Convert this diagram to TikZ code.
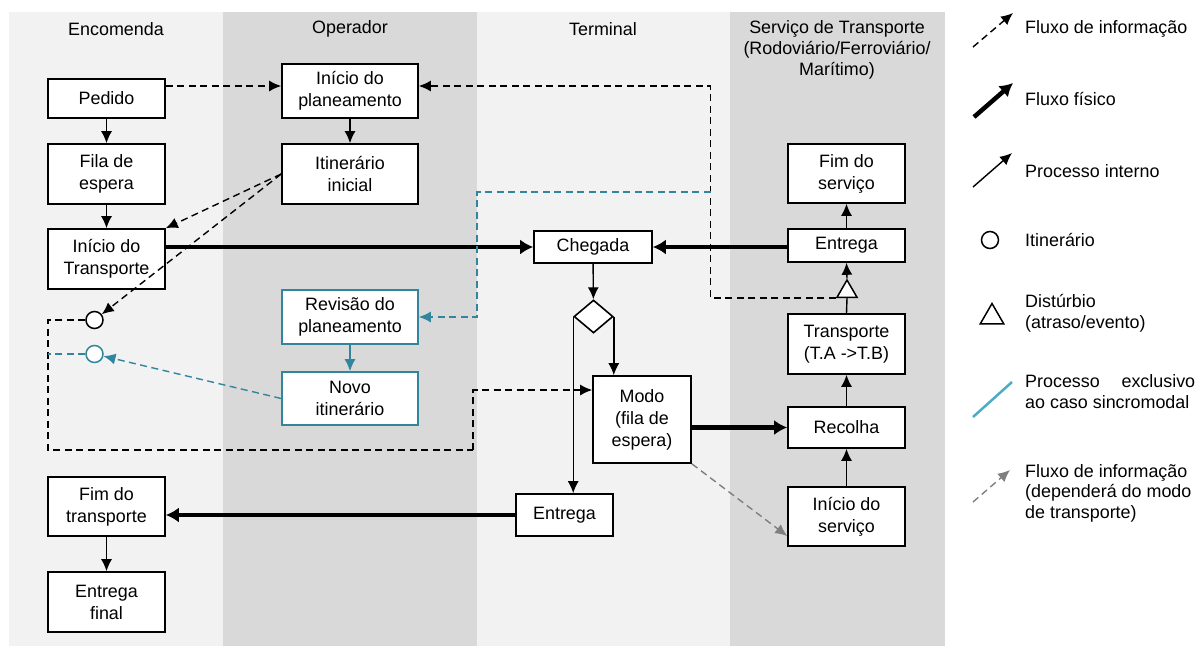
\documentclass[tikz,border=0pt]{standalone}
\usepackage{fontspec}
\setmainfont{Liberation Sans}
\usetikzlibrary{arrows.meta,shapes.geometric,positioning}

\definecolor{lanelight}{HTML}{F2F2F2}
\definecolor{lanedark}{HTML}{D9D9D9}
\definecolor{sinteal}{HTML}{31859C}
\definecolor{sinlight}{HTML}{4BACC6}
\definecolor{infogray}{HTML}{7F7F7F}

\tikzset{
  proc/.style={draw,line width=1.6pt,fill=white,minimum width=117pt,align=center,inner sep=2pt},
  procsin/.style={proc,draw=sinteal},
  info/.style={->,line width=1.4pt,dash pattern=on 7pt off 4.5pt},
  fisico/.style={-{Latex[length=13pt,width=15pt]},line width=4.5pt},
  interno/.style={->,line width=1.4pt},
  itin/.style={circle,draw,line width=1.5pt,fill=white,minimum size=17pt,inner sep=0pt},
  legtext/.style={anchor=west,inner sep=0pt,align=left},
}

\begin{document}
\begin{tikzpicture}[x=1pt,y=-1pt,>={Latex[length=12pt,width=11pt]},font=\fontsize{17.9}{22}\selectfont]

\useasboundingbox (0,0) rectangle (1197,646);
\fill[lanelight] (9,12) rectangle (223,646);
\fill[lanedark] (223,12) rectangle (477,646);
\fill[lanelight] (477,12) rectangle (730,646);
\fill[lanedark] (730,12) rectangle (945,646);

\node (hEnc)  at (116,29) {Encomenda};
\node (hOper) at (350,29) {Operador};
\node (hTerm) at (603,29) {Terminal};
\node[align=center,font=\fontsize{17.9}{21}\selectfont] (hServ) at (837,50) {Serviço de Transporte\\(Rodoviário/Ferroviário/\\Marítimo)};

% Encomenda
\node[proc,minimum height=39pt] (pedido)    at (106.5,98.5) {Pedido};
\node[proc,minimum height=60pt] (fila)      at (106.5,174)  {Fila de\\espera};
\node[proc,minimum height=60pt] (iniTransp) at (106.5,259)  {Início do\\Transporte};
\node[proc,minimum height=59pt] (fimTransp) at (106.5,506.5) {Fim do\\transporte};
\node[proc,minimum height=60pt] (entFinal)  at (106.5,602)  {Entrega\\final};
\node[itin] (itinA) at (94.5,320) {};
\node[itin,draw=sinteal] (itinB) at (94.5,354) {};

% Operador
\node[proc,minimum width=136pt,minimum height=54pt] (iniPlan) at (350,91) {Início do\\planeamento};
\node[proc,minimum width=136pt,minimum height=60pt] (itinIni) at (350,174) {Itinerário\\inicial};
\node[procsin,minimum width=136pt,minimum height=54pt] (revPlan) at (350,317) {Revisão do\\planeamento};
\node[procsin,minimum width=136pt,minimum height=53pt] (novoItin) at (350,398.5) {Novo\\itinerário};

% Terminal
\node[proc,minimum width=118pt,minimum height=32pt] (chegada) at (593,247) {Chegada};
\node[diamond,draw,line width=1.6pt,fill=white,minimum width=39pt,minimum height=33pt,inner sep=0pt] (decisao) at (593.5,316.5) {};
\node[proc,minimum width=98pt,minimum height=87pt] (modo) at (642,419.5) {Modo\\(fila de\\espera)};
\node[proc,minimum width=97pt,minimum height=42pt] (entTerm) at (564.5,515) {Entrega};

% Servico de transporte
\node[proc,minimum height=59pt] (fimServ) at (846.5,173.5) {Fim do\\serviço};
\node[proc,minimum height=33pt] (entServ) at (846.5,245.5) {Entrega};
\node[regular polygon,regular polygon sides=3,draw,line width=1.5pt,fill=white,minimum size=23pt,inner sep=0pt] (dist) at (847,291.5) {};
\node[proc,minimum height=60pt] (transp)  at (846.5,344) {Transporte\\(T.A ->T.B)};
\node[proc,minimum height=41pt] (recolha) at (846.5,427.5) {Recolha};
\node[proc,minimum height=59pt] (iniServ) at (846.5,516.5) {Início do\\serviço};

\coordinate (retorno) at (710.5,86);
\coordinate (desvio)  at (710.5,192);
\coordinate (desvioB) at (477,192);
\coordinate (lacoA)   at (48,450);
\coordinate (lacoB)   at (473,450);

% processos internos
\path[interno] (pedido)  edge (fila)
               (fila)    edge (iniTransp)
               (iniPlan) edge (itinIni)
               (fimTransp) edge (entFinal)
               (chegada) edge (decisao)
               (iniServ) edge (recolha)
               (recolha) edge (transp)
               (entServ) edge (fimServ)
               (dist.north) edge (entServ.south);
\draw[line width=1.4pt] (transp.north) -- (dist.south);
\draw[interno] (decisao.east) -- (decisao.east |- modo.north);
\draw[interno] (decisao.west) -- (decisao.west |- entTerm.north);
\draw[interno,color=sinteal] (revPlan) -- (novoItin);

% fluxo fisico
\draw[fisico] (iniTransp.east |- chegada.west) -- (chegada.west);
\draw[fisico] (entServ.west |- chegada.east) -- (chegada.east);
\draw[fisico] (modo.east |- recolha.west) -- (recolha.west);
\draw[fisico] (entTerm.west) -- (entTerm.west -| fimTransp.east);

% fluxo de informacao
\draw[info] ([yshift=12.5pt]pedido.east) -- ([yshift=12.5pt]pedido.east -| iniPlan.west);
\draw[info] (dist.corner 2) -| (retorno) -- (retorno -| iniPlan.east);
\draw[info,color=sinteal] (desvio) -- (desvioB) |- (revPlan.east);
\draw[info] (itinIni.west) -- (iniTransp.north east);
\draw[info] (itinIni.west) -- (itinA);
\draw[info,-] (itinA.west) -| (lacoA) -- (lacoB);
\draw[info] (lacoB) |- ([yshift=29.5pt]modo.west);
\draw[info,-,color=sinteal] (itinB.west) -- (itinB.west -| lacoA);
\draw[info,color=sinteal] (novoItin.west) -- (itinB);
\draw[info,color=infogray] (modo.south east) -- ([yshift=-19.5pt]iniServ.west);

% legenda
\coordinate (lg1a) at (973,47);  \coordinate (lg1b) at (1013,13);
\coordinate (lg2a) at (974,117); \coordinate (lg2b) at (1013,83);
\coordinate (lg3a) at (973,187); \coordinate (lg3b) at (1012,153);
\coordinate (lg6a) at (973,417); \coordinate (lg6b) at (1012,382);
\coordinate (lg7a) at (973,502); \coordinate (lg7b) at (1010,470);
\draw[info] (lg1a) -- (lg1b);
\draw[fisico] (lg2a) -- (lg2b);
\draw[interno] (lg3a) -- (lg3b);
\node[itin] (lgItin) at (990,240) {};
\node[regular polygon,regular polygon sides=3,draw,line width=1.5pt,minimum size=27pt,inner sep=0pt] (lgDist) at (992,317) {};
\draw[line width=2.5pt,sinlight] (lg6a) -- (lg6b);
\draw[info,color=infogray] (lg7a) -- (lg7b);

\node[legtext] (lgT1) at (1025,29)  {Fluxo de informação};
\node[legtext] (lgT2) at (1025,99)  {Fluxo físico};
\node[legtext] (lgT3) at (1025,171) {Processo interno};
\node[legtext] (lgT4) at (1025,240) {Itinerário};
\node[legtext,font=\fontsize{17.9}{21}\selectfont] (lgT5) at (1025,313.5) {Distúrbio\\(atraso/evento)};
\node[legtext,font=\fontsize{17.9}{21}\selectfont] (lgT6) at (1025,392) {\makebox[170pt][s]{Processo exclusivo}\\ao caso sincromodal};
\node[legtext,font=\fontsize{17.9}{20.5}\selectfont] (lgT7) at (1025,493) {Fluxo de informação\\(dependerá do modo\\de transporte)};

\end{tikzpicture}
\end{document}
